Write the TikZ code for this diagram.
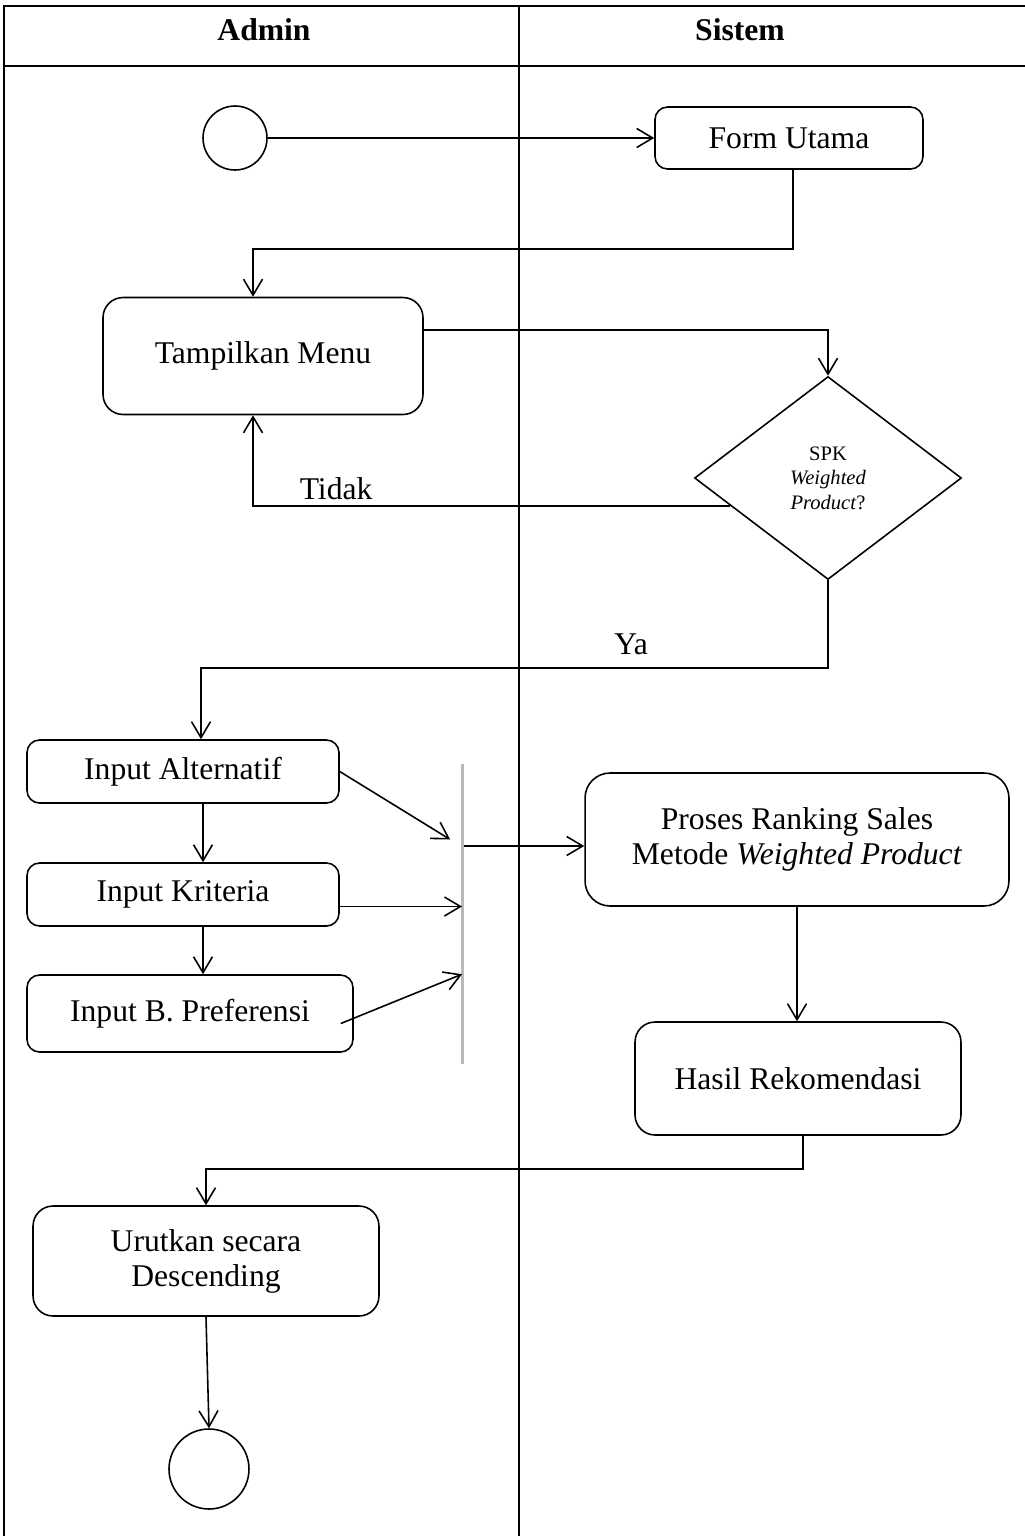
\documentclass[tikz,border=0pt]{standalone}
\usepackage{fontspec}
\setmainfont{Liberation Serif}
\usetikzlibrary{shapes.geometric,arrows.meta,calc}

\tikzset{
  act/.style={draw, rounded corners=0.25cm, line width=0.9pt, align=center, inner sep=0pt},
  arr/.style={-{Straight Barb[length=3.2mm,width=3.8mm]}, line width=0.9pt},
}

\begin{document}
\begin{tikzpicture}[x=0.02cm,y=-0.02cm,font=\fontsize{18}{20}\selectfont]
\useasboundingbox (0,0) rectangle (1025,1536);
% Swimlanes
\draw[line width=1pt] (4,1536) -- (4,6) -- (1025,6);
\draw[line width=1pt] (4,66) -- (1025,66);
\draw[line width=1pt] (519,6) -- (519,1536);
\node[font=\fontsize{18}{20}\selectfont\bfseries] (lnadmin) at (264,30) {Admin};
\node[font=\fontsize{18}{20}\selectfont\bfseries] (lnsistem) at (740,30) {Sistem};

% Activities
\node[draw, circle, line width=0.9pt, minimum size=1.28cm] (start) at (235,138) {};
\node[act, minimum width=5.36cm, minimum height=1.24cm] (formutama) at (789,138) {Form Utama};
\node[act, rounded corners=0.4cm, minimum width=6.4cm, minimum height=2.34cm] (menu) at (263,356) {Tampilkan Menu};
\node[draw, diamond, line width=0.9pt, minimum width=5.34cm, minimum height=4.06cm, inner sep=0pt,
  align=center, font=\fontsize{11.7}{14}\selectfont] (spk) at (828,478) {SPK\\\textit{Weighted}\\\textit{Product}?};
\node[act, minimum width=6.24cm, minimum height=1.26cm] (inalt) at (183,771.5) {Input Alternatif};
\node[act, minimum width=6.24cm, minimum height=1.26cm] (inkrit) at (183,894.5) {Input Kriteria};
\node[act, minimum width=6.52cm, minimum height=1.54cm] (inpref) at (190,1013.5) {Input B. Preferensi};
\node[fill=gray!55, inner sep=0pt, minimum width=0.06cm, minimum height=6cm] (bar) at (462,914) {};
\node[act, rounded corners=0.5cm, minimum width=8.48cm, minimum height=2.66cm] (proses) at (797,839.5)
  {Proses Ranking Sales\\Metode \textit{Weighted Product}};
\node[act, rounded corners=0.4cm, minimum width=6.52cm, minimum height=2.26cm] (hasil) at (798,1078.5) {Hasil Rekomendasi};
\node[act, rounded corners=0.4cm, minimum width=6.92cm, minimum height=2.2cm] (urut) at (206,1261) {Urutkan secara\\Descending};
\node[draw, circle, line width=0.9pt, minimum size=1.6cm] (finish) at (209,1469) {};

% Flows
\draw[arr] (start) -- (formutama);
\draw[arr] ([xshift=0.08cm]formutama.south) -- ++(0,79) -| ([xshift=-0.2cm]menu.north);
\draw[arr] ([yshift=0.52cm]menu.east) -| (spk.north);
\draw[arr] (spk.196) -| node[pos=0.413, above] {Tidak} ([xshift=-0.2cm]menu.south);
\draw[arr] (spk.south) -- ++(0,88) -| node[pos=0.157, above=4pt] {Ya} ([xshift=0.36cm]inalt.north);
\draw[arr] ([xshift=0.4cm]inalt.south) -- ([xshift=0.4cm]inkrit.north);
\draw[arr] ([xshift=0.4cm]inkrit.south) -- ([xshift=0.4cm]inkrit.south |- inpref.north);

% Fork
\coordinate (kr) at ([yshift=-0.24cm]inkrit.east);
\coordinate (pr) at ([yshift=-0.13cm]proses.west);
\draw[arr] (inalt.east) -- ([xshift=-0.2cm]bar.west |- proses.west);
\draw[arr] (kr) -- (kr -| bar.center);
\draw[arr] ($(inpref.east)+(-13,10)$) -- (bar.center |- inpref.north);
\draw[arr] (pr -| bar.east) -- (pr);

\draw[arr] (proses.south) -- (hasil.north -| proses.south);
\draw[arr] ([xshift=0.1cm]hasil.south) -- ++(0,33) -| (urut.north);
\draw[arr] (urut.south) -- (finish.north);
\end{tikzpicture}
\end{document}
